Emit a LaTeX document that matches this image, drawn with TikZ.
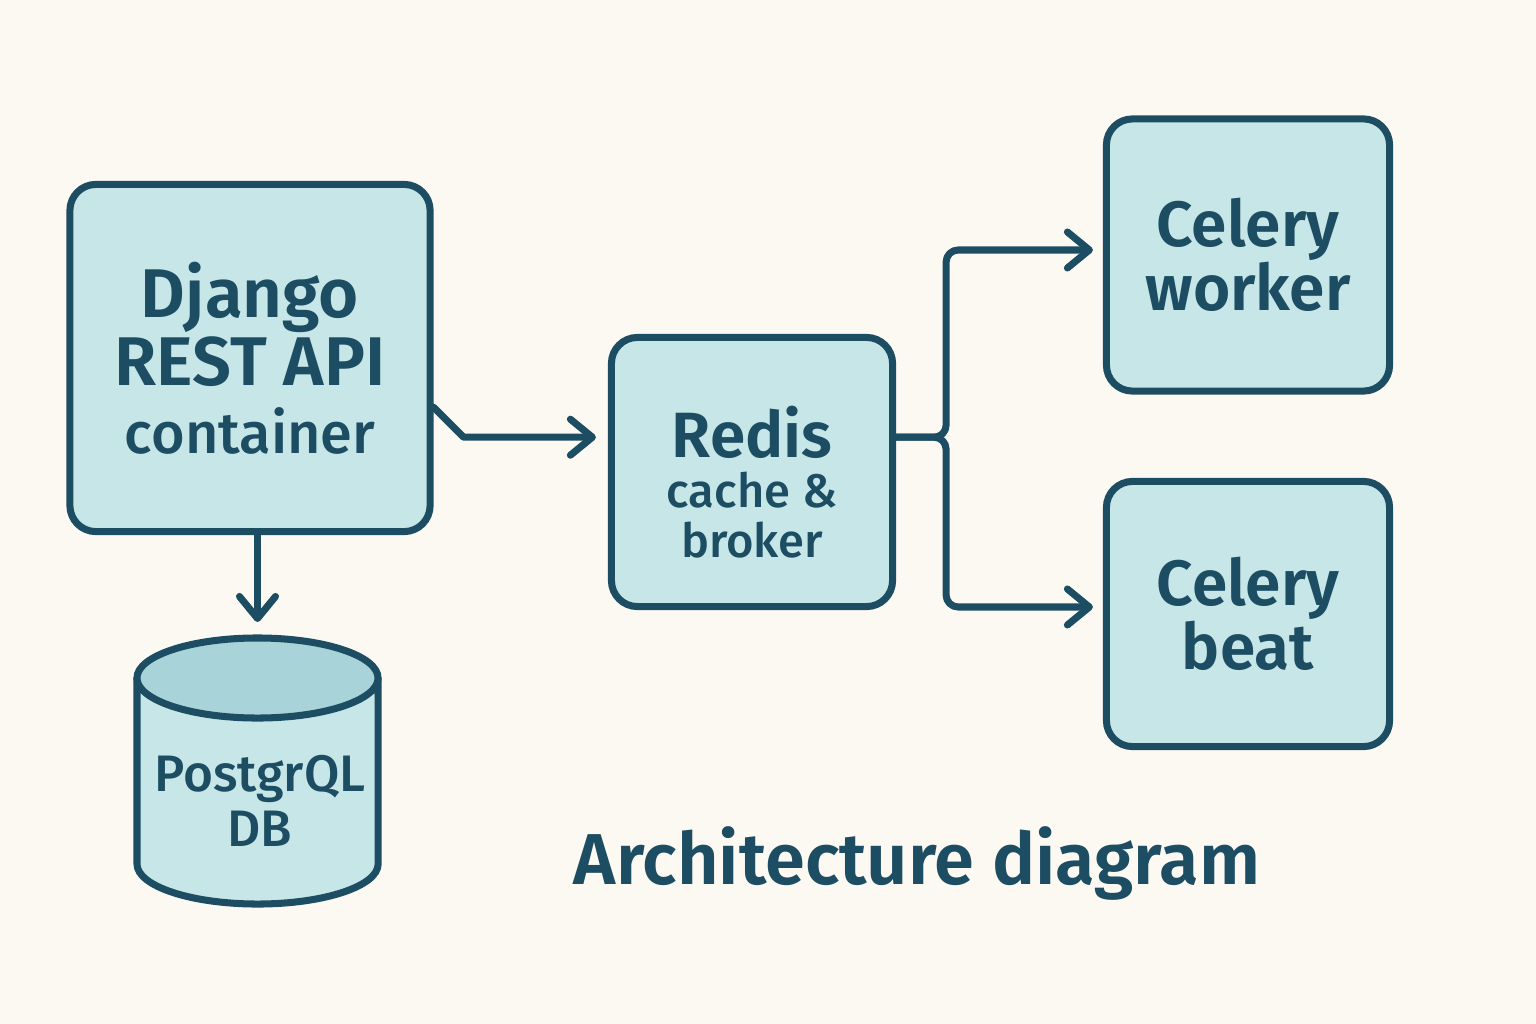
\documentclass[tikz,border=0pt]{standalone}
\usepackage{fontspec}
\setmainfont{Fira Sans}[BoldFont={Fira Sans SemiBold}]
\newfontfamily\medfont{Fira Sans Medium}
\usetikzlibrary{arrows.meta, positioning}
\definecolor{paper}{HTML}{FCF9F2}
\definecolor{boxfill}{HTML}{C6E6E7}
\definecolor{topfill}{HTML}{A8D3D8}
\definecolor{ink}{HTML}{1D4D63}
\newcommand{\lowerline}[1]{\raisebox{-0.1cm}[\height][\depth]{#1}}
\tikzset{
    box/.style={draw=ink, fill=boxfill, line width=2pt, rounded corners=0.26cm, text=ink, align=center, inner sep=0pt},
    arr/.style={draw=ink, line width=2pt, line cap=round, line join=round, -{Straight Barb[length=2.2mm, width=3.6mm, round]}}
}

\begin{document}
\begin{tikzpicture}[x=0.01cm, y=-0.01cm]
    \fill[paper] (0,0) rectangle (1536,1024);
    \useasboundingbox (0,0) rectangle (1536,1024);

    \node[box, minimum width=3.6cm, minimum height=3.47cm, font=\bfseries\fontsize{19.6}{19.4}\selectfont] (django) at (250,358) {
        Django\\
        REST API\\
        {\mdseries\medfont\fontsize{16.4}{19}\selectfont container}
    };
    \node[box, minimum width=2.81cm, minimum height=2.69cm, font=\bfseries\fontsize{18.2}{14.2}\selectfont] (redis) at (752,472) {
        \lowerline{Redis}\\
        \lowerline{\mdseries\medfont\fontsize{13.4}{14.2}\selectfont cache \&}\\
        \lowerline{\mdseries\medfont\fontsize{13.4}{14.2}\selectfont broker}
    };
    \node[box, minimum width=2.83cm, minimum height=2.72cm, font=\bfseries\fontsize{18.2}{18.2}\selectfont] (worker) at (1248,255) {
        Celery\\
        worker
    };
    \node[box, minimum width=2.83cm, minimum height=2.65cm, font=\bfseries\fontsize{18.2}{18.2}\selectfont] (beat) at (1248,614) {
        Celery\\
        beat
    };

    % database cylinder
    \draw[ink, fill=boxfill, line width=2pt] (137,678) -- (137,864) arc[start angle=180, end angle=360, x radius=1.205cm, y radius=0.4cm] -- (378,678);
    \draw[ink, fill=topfill, line width=2pt] (257.5,678) ellipse [x radius=1.205cm, y radius=0.4cm];
    \coordinate (dbtop) at (257.5,638);
    \node[text=ink, align=center, font=\medfont\fontsize{14.6}{15.6}\selectfont] (db) at (260,801) {
        PostgrQL\\
        DB
    };

    \node[text=ink, font=\bfseries\fontsize{20.5}{26}\selectfont] (title) at (917,863) {Architecture diagram};

    \draw[arr] (django.south -| dbtop) -- ([yshift=0.16cm]dbtop);
    \draw[arr, shorten >=0.12cm] (django.-15) -- ++(30,30) coordinate (kink) -- (kink -| redis.west);
    \draw[arr, rounded corners=0.12cm, shorten >=0.1cm] (kink -| redis.east) -- ++(50,0) |- ([yshift=0.05cm]worker.west);
    \draw[arr, rounded corners=0.12cm, shorten >=0.1cm] (kink -| redis.east) -- ++(50,0) |- ([yshift=0.07cm]beat.west);
\end{tikzpicture}
\end{document}
